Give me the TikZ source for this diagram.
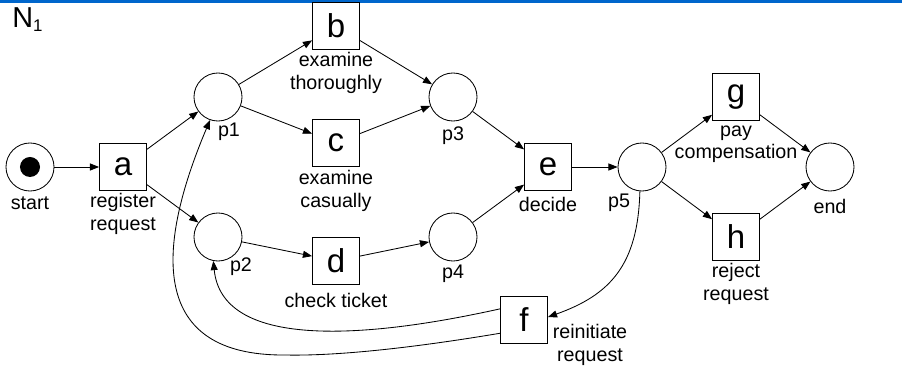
\documentclass[tikz,border=0pt]{standalone}
\usepackage{fontspec}
\setmainfont{Liberation Sans}
\usetikzlibrary{arrows.meta}
\definecolor{barblue}{RGB}{0,102,204}
\tikzset{
  place/.style={circle, draw, line width=0.6pt, minimum size=1.2cm, inner sep=0pt},
  trans/.style={rectangle, draw, line width=0.6pt, minimum size=1.175cm, inner sep=0pt, font=\fontsize{23.5}{25}\selectfont},
  lbl/.style={font=\fontsize{14}{16}\selectfont, align=center, inner sep=0pt},
  arc/.style={line width=0.6pt, -{Triangle[length=6.5pt,width=5pt]}},
  token/.style={circle, fill=black, minimum size=0.5cm, inner sep=0pt}
}
\begin{document}
\begin{tikzpicture}[x=0.025cm, y=-0.025cm]
\useasboundingbox (0,0) rectangle (902,366);
\fill[barblue] (0,0) rectangle (902,3);
\node[anchor=base west, inner sep=0pt, font=\fontsize{20.5}{22}\selectfont] (title) at (12,28) {N\raisebox{-2.8pt}{\fontsize{12}{12}\selectfont 1}};

% places
\node[place] (start) at (30,167) {};
\node[token] (tok) at (30,167) {};
\node[place] (p1) at (218,97) {};
\node[place] (p2) at (218,237) {};
\node[place] (p3) at (453,97) {};
\node[place] (p4) at (453,237) {};
\node[place] (p5) at (642,167) {};
\node[place] (end) at (830,167) {};

% transitions
\node[trans] (a) at (123,167) {a};
\node[trans] (b) at (336,26) {b};
\node[trans] (c) at (336,143) {c};
\node[trans] (d) at (336,261) {d};
\node[trans] (e) at (548,167) {e};
\node[trans] (f) at (524,320) {f};
\node[trans] (g) at (736,97) {g};
\node[trans] (h) at (736,237) {h};

% labels
\node[lbl] (lstart) at (30,203) {start};
\node[lbl] (la) at (123,214) {register\\request};
\node[lbl] (lp1) at (229,132) {p1};
\node[lbl] (lp2) at (241,267) {p2};
\node[lbl] (lb) at (336,73) {examine\\thoroughly};
\node[lbl] (lc) at (336,191) {examine\\casually};
\node[lbl] (ld) at (336,300) {check ticket};
\node[lbl] (lp3) at (453,136) {p3};
\node[lbl] (lp4) at (453,274) {p4};
\node[lbl] (le) at (548,204) {decide};
\node[lbl] (lp5) at (619,203) {p5};
\node[lbl] (lg) at (736,144) {pay\\compensation};
\node[lbl] (lh) at (736,284) {reject\\request};
\node[lbl] (lend) at (830,206) {end};
\node[lbl] (lf) at (590,345) {reinitiate\\request};

% arcs
\draw[arc] (start) -- (a);
\draw[arc] (a) -- (p1);
\draw[arc] (a) -- (p2);
\draw[arc] (p1) -- (b);
\draw[arc] (p1) -- (c);
\draw[arc] (p2) -- (d);
\draw[arc] (b) -- (p3);
\draw[arc] (c) -- (p3);
\draw[arc] (d) -- (p4);
\draw[arc] (p3) -- (e);
\draw[arc] (p4) -- (e);
\draw[arc] (e) -- (p5);
\draw[arc] (p5) -- (g);
\draw[arc] (p5) -- (h);
\draw[arc] (g) -- (end);
\draw[arc] (h) -- (end);
\draw[arc] (p5.265) .. controls (638,265) and (610,295) .. (f.7);
\draw[arc] (f.155) .. controls (360,340) and (222,348) .. (p2.259);
\coordinate (low) at (285,355);
\draw[arc] (f.209) .. controls (400,350) and (330,356) .. (low) .. controls (150,356) and (155,250) .. (p1.251);
\end{tikzpicture}
\end{document}
